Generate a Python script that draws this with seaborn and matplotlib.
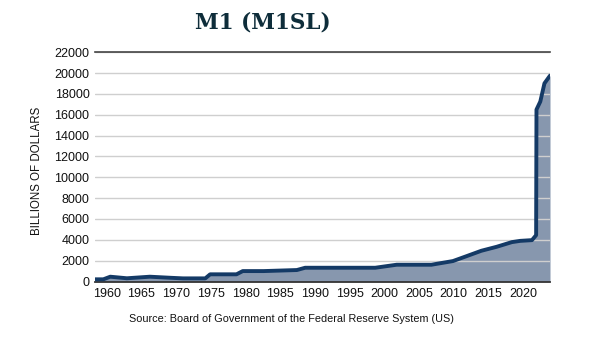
import matplotlib
matplotlib.use("Agg")
import matplotlib.pyplot as plt
import seaborn as sns
import pandas as pd

# Data (decimal year, billions of dollars)
years = [1958.3, 1959.5, 1960.5, 1962.9, 1966.2, 1969.1, 1971.0, 1974.2, 1974.9,
         1978.7, 1979.6, 1982.6, 1987.4, 1988.6, 1998.7, 2001.8, 2006.8, 2009.9,
         2011.9, 2014.0, 2016.2, 2018.4, 2019.6, 2021.3, 2021.9, 2021.95, 2022.5,
         2023.1, 2023.9]
values = [210, 210, 460, 310, 460, 360, 300, 300, 690,
          690, 1000, 1000, 1100, 1320, 1320, 1610, 1610, 1960,
          2440, 2950, 3330, 3780, 3900, 3970, 4450, 16500, 17270,
          19020, 19760]
xtick_years = [1960, 1965, 1970, 1975, 1980, 1985, 1990, 1995, 2000, 2005, 2010, 2015, 2020]
ytick_vals = list(range(0, 22001, 2000))

title = "M1 (M1SL)"
ylabel = "BILLIONS OF DOLLARS"
source = "Source: Board of Government of the Federal Reserve System (US)"

df = pd.DataFrame({"year": years, "value": values})

sns.set_theme(style="white")
plt.rcParams["font.family"] = ["Liberation Sans", "DejaVu Sans"]

W, H = 594, 345
fig = plt.figure(figsize=(W / 100, H / 100), dpi=100)
ax = fig.add_axes([95 / W, 1 - 281.5 / H, (550 - 95) / W, (281.5 - 52.3) / H])

ax.fill_between(df["year"], df["value"], 0, color="#8797ae", linewidth=0, zorder=1)
sns.lineplot(data=df, x="year", y="value", ax=ax, color="#143a66", linewidth=2.8,
             zorder=3, solid_joinstyle="round", solid_capstyle="round")

ax.set_xlim(years[0], years[-1])
ax.set_ylim(0, 22000)
ax.set_xticks(xtick_years)
ax.set_xticklabels([str(y) for y in xtick_years])
ax.set_yticks(ytick_vals)
ax.set_yticklabels([str(v) for v in ytick_vals])
ax.tick_params(axis="both", length=0, labelsize=9, colors="#111111")
ax.tick_params(axis="x", pad=5)
ax.tick_params(axis="y", pad=4)

ax.set_axisbelow("line")
ax.grid(axis="y", color="#cfcfcf", linewidth=1.0)
ax.grid(axis="x", visible=False)

for s in ["left", "right"]:
    ax.spines[s].set_visible(False)
ax.spines["top"].set_color("#444444")
ax.spines["top"].set_linewidth(1.2)
ax.spines["bottom"].set_color("#333333")
ax.spines["bottom"].set_linewidth(1.3)

ax.set_xlabel("")
ax.set_ylabel(ylabel, fontsize=8.3, color="#111111")
ax.yaxis.set_label_coords(-0.115, 0.484)

fig.text(263 / W, 1 - 22 / H, title, ha="center", va="center",
         fontsize=15.5, fontweight="bold", color="#0e2d3a",
         family=["DejaVu Serif Condensed", "DejaVu Serif"])
fig.text(291.5 / W, 1 - 319 / H, source, ha="center", va="center",
         fontsize=7.8, color="#111111")

fig.savefig("out.png", dpi=100, facecolor="white")
